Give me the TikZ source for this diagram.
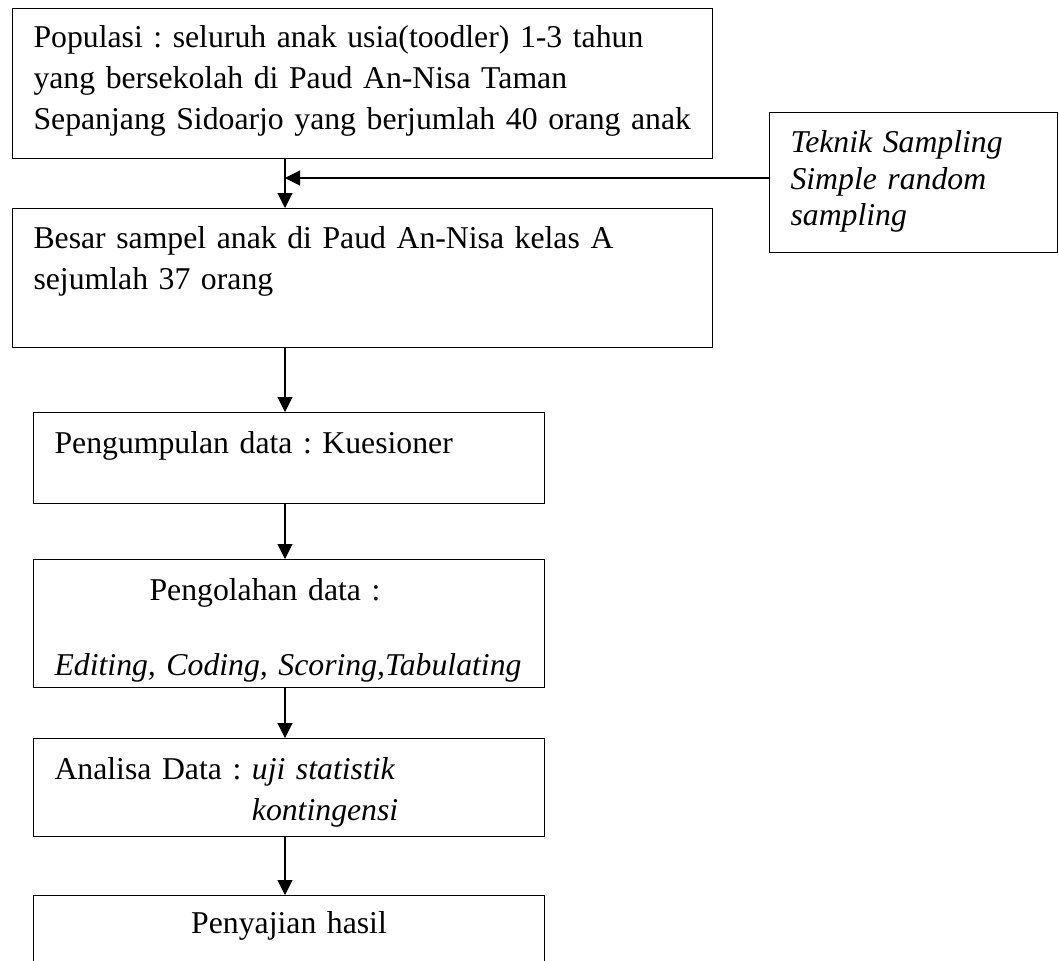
\documentclass[tikz,border=0pt]{standalone}
\usepackage{fontspec}
\setmainfont{Liberation Serif}
\usetikzlibrary{arrows.meta,positioning}
\setlength{\parindent}{0pt}
\frenchspacing
\newdimen\pxd \pxd=0.75pt
\newcommand{\lnup}[1]{\rule{0pt}{#1\pxd}}
\newcommand{\lndn}[1]{\rule[-#1\pxd]{0pt}{0pt}}

\begin{document}
\begin{tikzpicture}[x=0.75pt,y=-0.75pt,every node/.style={font=\fontsize{23.8}{30.75}\selectfont},
    box/.style={draw,line width=0.8pt,anchor=north west,inner xsep=15.75pt,inner ysep=0pt,align=left},
    widebox/.style={box,text width=493.5pt},
    smallbox/.style={box,text width=351.75pt},
    arr/.style={-{Triangle[length=11.25pt,width=11.25pt]},line width=0.8pt}]
    \useasboundingbox (0,0) rectangle (1059,960);
    \clip (0,0) rectangle (1059,960);
    \node[widebox] (popbox) at (12,8) {\lnup{39}Populasi : seluruh anak usia(toodler) 1-3 tahun\\ yang bersekolah di Paud An-Nisa Taman\\ Sepanjang Sidoarjo yang berjumlah 40 orang anak\lndn{29}};
    \node[widebox] (sampbox) at (12,208) {\lnup{40}Besar sampel anak di Paud An-Nisa kelas A\\ sejumlah 37 orang\lndn{58}};
    \node[box,text width=184.5pt,font=\fontsize{23.8}{27.375}\selectfont\itshape] (teknikbox) at (769,112) {\lnup{40}Teknik Sampling\\ Simple random\\ sampling\lndn{27}};
    \node[smallbox] (kuesbox) at (33,412) {\lnup{41}Pengumpulan data : Kuesioner\lndn{50}};
    \node[smallbox] (olahbox) at (33,559) {\lnup{41}\hspace*{95\pxd}Pengolahan data :\\[34\pxd] \textit{Editing, Coding, Scoring,Tabulating}\lndn{12}};
    \node[smallbox] (analbox) at (33,738) {\lnup{41}Analisa Data : \textit{uji statistik}\\ \phantom{Analisa Data : }\textit{kontingensi}\lndn{16}};
    \node[smallbox,align=center] (penybox) at (33,895) {\lnup{38}Penyajian hasil\lndn{42}};
    \coordinate (join) at (285,178);
    \draw[arr] (popbox.south -| join) -- (sampbox.north -| join);
    \draw[arr] (teknikbox.west |- join) -- (join);
    \draw[arr] (sampbox.south -| join) -- (kuesbox.north -| join);
    \draw[arr] (kuesbox.south -| join) -- (olahbox.north -| join);
    \draw[arr] (olahbox.south -| join) -- (analbox.north -| join);
    \draw[arr] (analbox.south -| join) -- (penybox.north -| join);
  \end{tikzpicture}
\end{document}
